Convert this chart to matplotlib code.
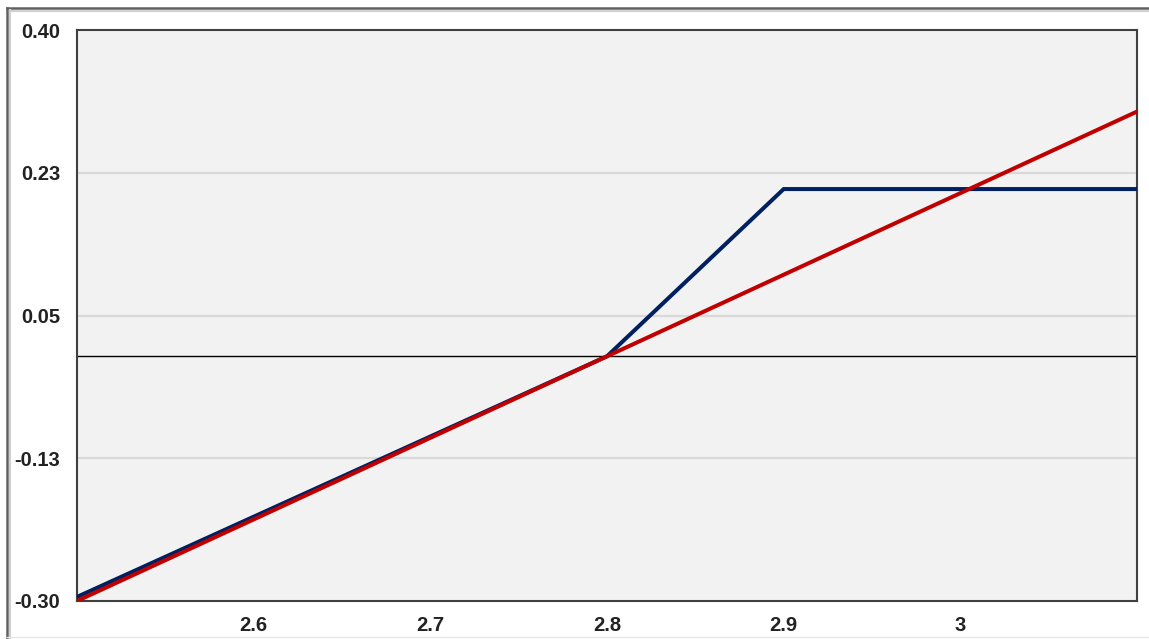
import matplotlib
matplotlib.use("Agg")
import matplotlib.pyplot as plt
from matplotlib.lines import Line2D

# Data
blue_x = [2.5, 2.8, 2.9, 3.1]
blue_y = [-0.295, 0.0, 0.205, 0.205]
red_x = [2.5, 3.1]
red_y = [-0.30, 0.30]
y_ticks = [-0.30, -0.125, 0.05, 0.225, 0.40]
y_tick_labels = ["-0.30", "-0.13", "0.05", "0.23", "0.40"]
x_ticks = [2.6, 2.7, 2.8, 2.9, 3.0]
x_tick_labels = ["2.6", "2.7", "2.8", "2.9", "3"]

W, H = 1149, 639
fig = plt.figure(figsize=(W / 100, H / 100), dpi=100)
fig.patch.set_facecolor("white")
ax = fig.add_axes([77 / W, 1 - 601 / H, (1137 - 77) / W, (601 - 30) / H])
ax.set_facecolor("#f2f2f2")
ax.set_xlim(2.5, 3.1)
ax.set_ylim(-0.30, 0.40)

for yv in y_ticks[1:-1]:
    ax.axhline(yv, color="#d9d9d9", lw=1.6, zorder=1)
ax.axhline(0, color="black", lw=1.0, zorder=2)

ax.plot(blue_x, blue_y, color="#002060", lw=2.9, zorder=3, solid_joinstyle="miter")
ax.plot(red_x, red_y, color="#c00000", lw=2.9, zorder=4)

ax.set_yticks(y_ticks)
ax.set_yticklabels(y_tick_labels)
ax.set_xticks(x_ticks)
ax.set_xticklabels(x_tick_labels)
ax.tick_params(axis="both", length=0, labelsize=14.5, colors="#222222")
ax.tick_params(axis="y", pad=12)
ax.tick_params(axis="x", pad=11)
for lab in ax.get_xticklabels() + ax.get_yticklabels():
    lab.set_fontfamily("Liberation Sans")
    lab.set_fontweight("bold")

for s in ax.spines.values():
    s.set_color("#404040")
    s.set_linewidth(1.5)

# outer frame
fig.add_artist(Line2D([7 / W, 7 / W], [1 - 8 / H, 0], transform=fig.transFigure, color="#606060", lw=1.8))
fig.add_artist(Line2D([7 / W, 1], [1 - 8 / H, 1 - 8 / H], transform=fig.transFigure, color="#606060", lw=1.8))
fig.add_artist(Line2D([9.5 / W, 9.5 / W], [1 - 10 / H, 0], transform=fig.transFigure, color="#d0d0d0", lw=1.5))
fig.add_artist(Line2D([9.5 / W, 1], [1 - 10.5 / H, 1 - 10.5 / H], transform=fig.transFigure, color="#d0d0d0", lw=1.5))
fig.add_artist(Line2D([7 / W, 1], [1 - 637 / H, 1 - 637 / H], transform=fig.transFigure, color="#e6e6e6", lw=1.0))

fig.savefig("out.png", dpi=100)
